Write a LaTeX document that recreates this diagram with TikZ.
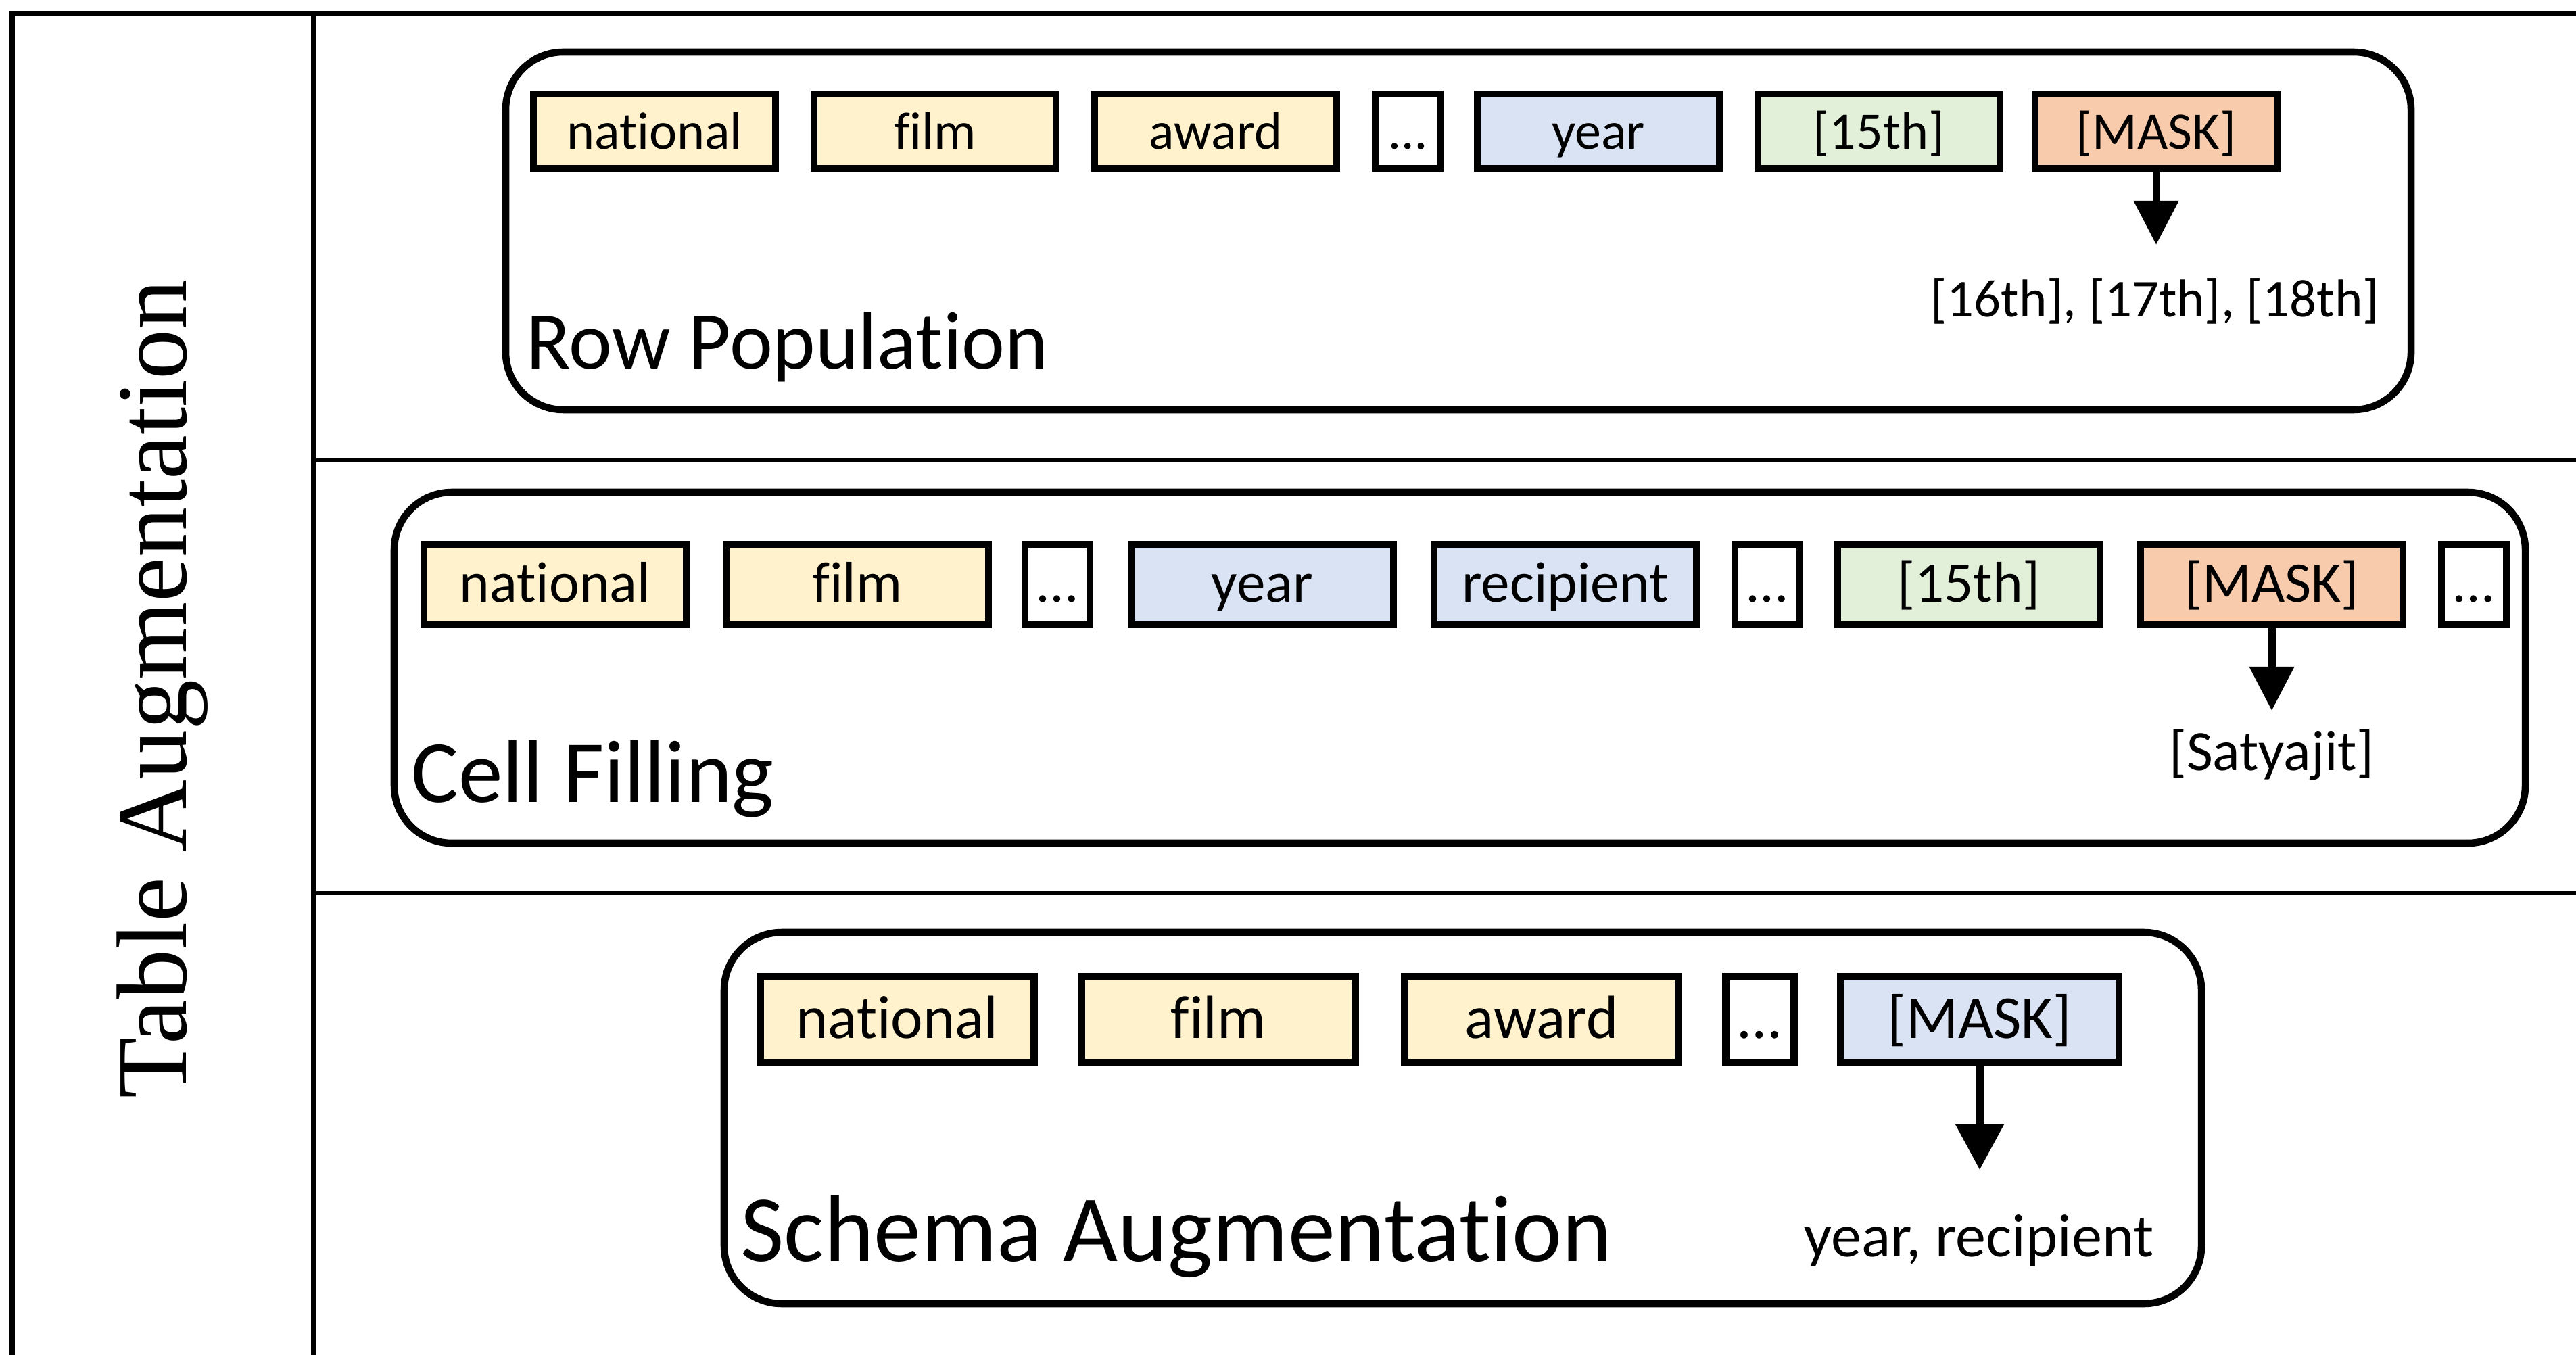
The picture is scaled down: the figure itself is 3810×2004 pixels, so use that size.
\documentclass[tikz,border=0pt]{standalone}
\usepackage{fontspec}
\setmainfont{Carlito}[Ligatures={NoCommon}]
\newfontfamily\titleserif{Liberation Serif}
\usetikzlibrary{arrows.meta}
% keeps the font from joining "t" and "i" into one glyph
\newcommand\splitti{t\kern0pt i}
\definecolor{tokyellow}{HTML}{FFF2CC}
\definecolor{tokblue}{HTML}{DAE3F3}
\definecolor{tokgreen}{HTML}{E2F0D9}
\definecolor{tokorange}{HTML}{F8CBAD}
\begin{document}
\begin{tikzpicture}[x=0.01cm, y=-0.01cm,
  tok/.style={draw, line width=3pt, inner sep=0pt},
  rowA/.style={tok, minimum height=1.10cm, text height=0.70cm, text depth=0.18cm,
    minimum width=3.58cm, font=\fontsize{22.2}{26}\selectfont},
  rowB/.style={tok, minimum height=1.19cm, text height=0.72cm, text depth=0.20cm,
    minimum width=3.88cm, font=\fontsize{24.2}{28}\selectfont},
  rowC/.style={tok, minimum height=1.27cm, text height=0.75cm, text depth=0.20cm,
    minimum width=4.05cm, font=\fontsize{25.6}{30}\selectfont},
  gap/.style={fill=white, minimum width=0.96cm},
  yel/.style={fill=tokyellow}, blu/.style={fill=tokblue},
  grn/.style={fill=tokgreen}, org/.style={fill=tokorange},
  group/.style={line width=3pt, rounded corners=0.85cm},
  arr/.style={line width=3.1pt, -{Triangle[length=0.65cm,width=0.64cm]}},
  result/.style={anchor=base, inner sep=0pt},
  tasklabel/.style={anchor=base west, inner sep=0pt}]
\useasboundingbox (0,0) rectangle (3810,2004);

% outer frame and grid
\draw[line width=2.3pt, line join=miter] (18,2004) -- (18,20) -- (3810,20);
\draw[line width=2.2pt] (464,20) -- (464,2004);
\draw[line width=1.8pt] (464,681) -- (3810,681);
\draw[line width=1.8pt] (464,1321) -- (3810,1321);

\node[rotate=90, anchor=base, inner sep=0pt,
  font=\titleserif\fontsize{42.1}{48}\selectfont] (title) at (275,1019) {Table Augmentation};

% Row Population
\draw[group] (748,77) rectangle (3566,606);
\node[rowA, yel] (a1) at (968,194) {national};
\node[rowA, yel] (a2) at (1383,194) {film};
\node[rowA, gap] (a3) at (2082,194) {…};
\node[rowA, yel] (a4) at (1798,194) {award};
\node[rowA, blu] (a5) at (2364,194) {year};
\node[rowA, grn] (a6) at (2779,194) {[15th]};
\node[rowA, org] (a7) at (3189,194) {[MASK]};
\coordinate (a7tip) at (3189,362);
\draw[arr] (a7.south) -- (a7tip);
\node[result, font=\fontsize{22.4}{26}\selectfont] (a8) at (3187,469) {[16th], [17th], [18th]};
\node[tasklabel, font=\fontsize{34.4}{40}\selectfont] (alabel) at (778,546) {Row Popula\splitti on};

% Cell Filling
\draw[group] (583,728) rectangle (3735,1247);
\node[rowB, yel] (b1) at (821,864.5) {national};
\node[rowB, yel] (b2) at (1268,864.5) {film};
\node[rowB, gap] (b3) at (1564,864.5) {…};
\node[rowB, blu] (b4) at (1867,864.5) {year};
\node[rowB, blu] (b5) at (2315,864.5) {recipient};
\node[rowB, gap] (b6) at (2614,864.5) {…};
\node[rowB, grn] (b7) at (2912,864.5) {[15th]};
\node[rowB, org] (b8) at (3360,864.5) {[MASK]};
\node[rowB, gap] (b9) at (3659,864.5) {…};
\coordinate (b8tip) at (3360,1051);
\draw[arr] (b8.south) -- (b8tip);
\node[result, font=\fontsize{24}{28}\selectfont] (b10) at (3360,1139) {[Satyajit]};
\node[tasklabel, font=\fontsize{37.3}{44}\selectfont] (blabel) at (608,1186) {Cell Filling};

% Schema Augmentation
\draw[group] (1071,1379) rectangle (3256,1928);
\node[rowC, yel] (c1) at (1327,1507.5) {national};
\node[rowC, yel] (c2) at (1802,1507.5) {film};
\node[rowC, yel] (c3) at (2280,1507.5) {award};
\node[rowC, gap, minimum width=1.01cm] (c4) at (2603,1507.5) {…};
\node[rowC, blu, minimum width=4.12cm] (c5) at (2928,1507.5) {[MASK]};
\coordinate (c5tip) at (2928,1730);
\draw[arr, -{Triangle[length=0.67cm,width=0.69cm]}] (c5.south) -- (c5tip);
\node[result, font=\fontsize{25.6}{30}\selectfont] (c6) at (2927,1858) {year, recipient};
\node[tasklabel, font=\fontsize{39.8}{46}\selectfont] (clabel) at (1095,1865) {Schema Augmenta\splitti on};
\end{tikzpicture}
\end{document}
